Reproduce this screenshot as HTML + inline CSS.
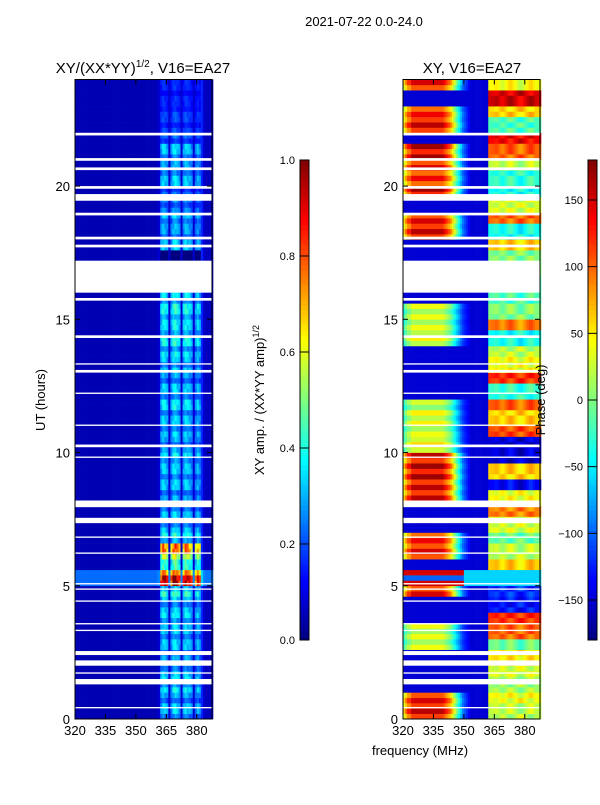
<!DOCTYPE html>
<html><head><meta charset="utf-8"><style>
body{margin:0;background:#fff;}
svg text{font-family:"Liberation Sans","DejaVu Sans",sans-serif;fill:#000;}
</style></head><body>
<svg id="chart" width="600" height="800" xmlns="http://www.w3.org/2000/svg">
<rect x="0" y="0" width="600" height="800" fill="#fff"/>
<g id="left"></g>
<g id="right"></g>
<g id="cb1"></g>
<g id="cb2"></g>
<g id="axes"></g>
<text x="364" y="26" font-size="13" text-anchor="middle">2021-07-22 0.0-24.0</text>
<text x="143" y="73" font-size="15" text-anchor="middle">XY/(XX*YY)<tspan font-size="10" dy="-6">1/2</tspan><tspan dy="6">, V16=EA27</tspan></text>
<text x="472" y="73" font-size="15" text-anchor="middle">XY, V16=EA27</text>
<text transform="translate(45,400) rotate(-90)" font-size="13" text-anchor="middle">UT (hours)</text>
<text x="420" y="755" font-size="13" text-anchor="middle">frequency (MHz)</text>
<text transform="translate(264,400) rotate(-90)" font-size="13" text-anchor="middle">XY amp. / (XX*YY amp)<tspan font-size="9" dy="-5">1/2</tspan></text>
<text transform="translate(545,400) rotate(-90)" font-size="13" text-anchor="middle">Phase (deg)</text>
</svg>
<script>
// ---- data ----
const freqMin = 320, freqMax = 387.5, tMin = 0, tMax = 24;
// amplitude per 1-MHz channel, 320..387
const chanAmp = [0.05,0.05,0.05,0.05,0.05,0.05,0.05,0.05,0.05,0.05,0.05,0.05,0.05,0.05,0.05,0.05,0.05,0.05,0.05,0.05,
 0.05,0.05,0.05,0.05,0.05,0.05,0.05,0.05,0.05,0.05,0.05,0.05,0.05,0.05,0.05,0.05,0.05,0.05,0.05,0.05,
 0.06,0.08,0.30,0.36,0.34,0.30,0.08,0.28,0.36,0.38,0.34,0.30,0.08,0.30,0.36,0.34,0.32,0.28,0.08,0.26,
 0.32,0.28,0.16,0.08,0.06,0.06,0.06,0.06];
// per half-hour row gain for the bright bands, 0..24h
const rowGain = [1.0,0.9,1.1,1.0,0.9,1.0,1.0,1.1,1.0,1.3,2.3,1.3,2.3,1.2,1.0,1.0,0.9,1.0,1.0,1.1,
 0.9,1.0,1.0,1.1,1.0,0.9,1.0,1.1,1.2,1.1,1.2,1.1,1.0,0.0,0.0,1.0,0.9,1.0,0.8,0.7,
 1.0,0.9,1.0,0.7,0.6,0.6,0.5,0.5];
// per half-hour baseline across all channels
const rowBase = [0.0,0.0,0.0,0.0,0.0,0.0,0.0,0.0,0.0,0.0,0.18,0.0,0.0,0.0,0.0,0.0,0.0,0.0,0.0,0.0,
 0.0,0.0,0.0,0.0,0.0,0.0,0.0,0.0,0.0,0.0,0.0,0.0,0.0,0.0,0.0,0.0,0.0,0.0,0.0,0.0,
 0.0,0.0,0.0,0.0,0.0,0.0,0.0,0.0];
// phase: left-region patch phase per half hour, and weight per channel
const rowPhaseL = [160,150,-150,-150,-150,40,40,-150,-150,150,170,-150,150,140,-150,-150,160,160,170,160,
 60,40,50,30,-150,-150,-150,-150,50,40,40,-150,-150,-150,-150,-150,160,150,-150,170,
 140,150,170,-150,160,140,-150,150];
const chanW = [0.7,0.8,0.9,0.9,1,1,1,1,1,1,1,1,1,1,1,1,1,1,1,1,0.95,0.9,0.85,0.8,0.7,0.6,0.5,0.4,0.3,0.2,0.15,0.1,0.05,0,0,0,0,0,0,0,0,0];
const rowPhaseR = [20,40,10,30,50,-10,100,120,-130,-120,-110,60,20,-10,30,90,40,-140,60,-150,
 -150,110,60,100,-30,120,40,20,-40,90,0,-20,-20,0,0,60,-40,100,30,-40,
 -30,20,100,140,-20,60,150,40];
const chanOffR = [0,5,5,10,10,0,-10,-10,0,10,20,20,10,0,-10,-20,-20,-10,0,10,20,20,10,0,0,0];
// flagged (blank) intervals in hours
const flags = [[16.0,17.2],[19.45,19.7],[19.9,20.0],[17.7,17.8],[18.0,18.1],[18.9,19.0],[20.6,20.7],[20.95,21.05],[21.9,22.0],
 [7.35,7.55],[7.95,8.2],[10.2,10.3],[9.8,9.85],[11.0,11.05],[12.2,12.25],[13.0,13.1],[13.3,13.35],[14.3,14.4],[15.7,15.8],
 [1.3,1.5],[1.7,1.75],[2.0,2.2],[2.4,2.55],[3.3,3.35],[3.55,3.6],[4.4,4.45],[4.85,4.9],[5.05,5.1],[6.2,6.25],[6.8,6.85],[0.4,0.45]];
const ampTicks = [0.0,0.2,0.4,0.6,0.8,1.0];
const phaseTicks = [-150,-100,-50,0,50,100,150];
const freqTicks = [320,335,350,365,380];
const timeTicks = [0,5,10,15,20];

// ---- helpers ----
const NS = "http://www.w3.org/2000/svg";
function jet(v){v=Math.max(0,Math.min(1,v));
 const r=Math.max(0,Math.min(1,1.5-Math.abs(4*v-3))),g=Math.max(0,Math.min(1,1.5-Math.abs(4*v-2))),b=Math.max(0,Math.min(1,1.5-Math.abs(4*v-1)));
 return `rgb(${Math.round(r*255)},${Math.round(g*255)},${Math.round(b*255)})`;}
function mk(tag,attrs,parent){const e=document.createElementNS(NS,tag);for(const k in attrs)e.setAttribute(k,attrs[k]);parent.appendChild(e);return e;}
const Y0=719, Y1=79.5;
function yS(t){return Y0-(t-tMin)/(tMax-tMin)*(Y0-Y1);}
function xS(f,x0){return x0+(f-freqMin)/(freqMax-freqMin)*137;}

function panel(g,x0,valFn){
 const ny=120;
 for(let r=0;r<ny;r++){
  const t=r*0.2, seg=Math.floor(t/0.5);
  for(let c=0;c<68;c++){
   const f=320+c;
   const e=mk('rect',{x:xS(f,x0).toFixed(2),y:yS(t+0.2).toFixed(2),width:(137/67.5+0.3).toFixed(2),height:(0.2*(Y0-Y1)/24+0.3).toFixed(2),fill:valFn(c,seg,r)},g);
   
   
  }
 }
 flags.forEach(fl=>{
  const e=mk('rect',{x:x0,y:yS(fl[1]),width:137,height:yS(fl[0])-yS(fl[1]),fill:'#fff'},g);
  
  
 });
}
panel(document.getElementById('left'),75,(c,seg,r)=>{
 const band=chanAmp[c]>0.2?chanAmp[c]*rowGain[seg]*((r%3)?1:0.75)*((c+r)%4?1:0.85):chanAmp[c];
 return jet(Math.min(1,band+rowBase[seg]));
});
panel(document.getElementById('right'),403,(c,seg,r)=>{
 let p;
 if(c<42){const w=chanW[c]*((r%2)?1:0.85);p=-150+w*(rowPhaseL[seg]+150);}
 else{p=rowPhaseR[seg]+chanOffR[c-42]*((r%3)?1:-1);}
 if(seg===10) p=(c<30)?(r%2?150:-100):-60;
 p=((p+180)%360+360)%360-180;
 return jet((p+180)/360);
});

// axes frames and ticks
const ax=document.getElementById('axes');
[75,403].forEach((x0,i)=>{
 const fr=mk('rect',{x:x0,y:Y1,width:137,height:Y0-Y1,fill:'none',stroke:'#000','stroke-width':1},ax);
 
 
 freqTicks.forEach(f=>{
  const x=xS(f,x0);
  mk('line',{x1:x,x2:x,y1:Y0,y2:Y0-5,stroke:'#000'},ax);
  mk('line',{x1:x,x2:x,y1:Y1,y2:Y1+5,stroke:'#000'},ax);
  const t=mk('text',{x:x,y:Y0+16,'font-size':13,'text-anchor':'middle'},ax);t.textContent=f;
  
  
 });
 timeTicks.forEach(v=>{
  const y=yS(v);
  mk('line',{x1:x0,x2:x0+5,y1:y,y2:y,stroke:'#000'},ax);
  mk('line',{x1:x0+137,x2:x0+132,y1:y,y2:y,stroke:'#000'},ax);
  const t=mk('text',{x:x0-5,y:y+5,'font-size':13,'text-anchor':'end'},ax);t.textContent=v;
  
  
 });
});

// colorbars
function colorbar(g,x0,vmin,vmax,ticks){
 for(let i=0;i<96;i++){
  const v=i/96;
  const e=mk('rect',{x:x0,y:(640-(i+1)*5).toFixed(1),width:9,height:5.5,fill:jet(v+0.005)},g);
  
  
 }
 mk('rect',{x:x0,y:160,width:9,height:480,fill:'none',stroke:'#000'},g);
 ticks.forEach(tv=>{
  const y=640-(tv-vmin)/(vmax-vmin)*480;
  mk('line',{x1:x0,x2:x0+9,y1:y,y2:y,stroke:'#000'},g);
  const t=mk('text',{x:x0-5,y:y+4,'font-size':11,'text-anchor':'end'},g);
  t.textContent=(vmax===1)?tv.toFixed(1):(tv<0?'\u2212'+Math.abs(tv):tv);
  
  
 });
}
colorbar(document.getElementById('cb1'),300,0,1,ampTicks);
colorbar(document.getElementById('cb2'),588,-180,180,phaseTicks);
</script>
</body></html>
